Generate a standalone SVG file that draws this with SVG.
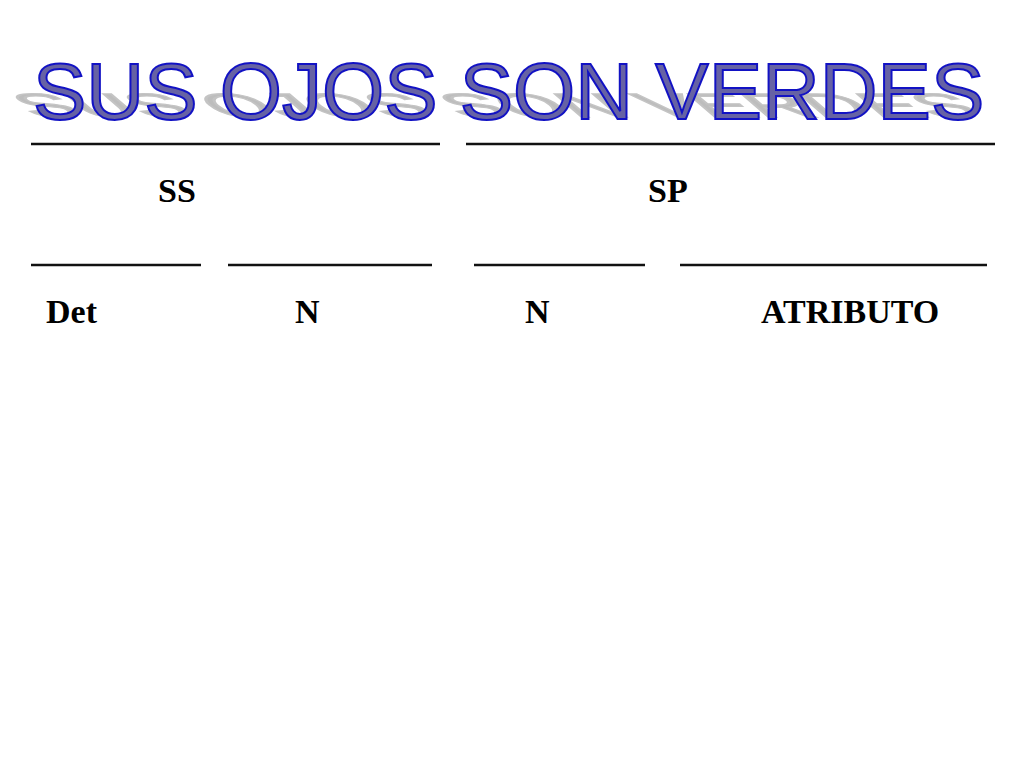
<svg xmlns="http://www.w3.org/2000/svg" width="1024" height="768" viewBox="0 0 1024 768">
<defs>
<style>
.title{font-family:"Liberation Sans",Arial,sans-serif;font-size:80px}
.main{fill:#6662a4;stroke:#1212c4;stroke-width:2px}
.shadow{fill:#bdbdbd;stroke:#c4c4c4;stroke-width:3px}
.lbl{font-family:"Liberation Serif","Times New Roman",serif;font-weight:bold;font-size:34px;fill:#000}
.blank{stroke:#111;stroke-width:2.5}
</style>
</defs>
<rect width="1024" height="768" fill="#fff"/>
<g id="title">
<text class="title shadow" x="33" y="0" transform="matrix(1,0,0.49,0.42,0,117)">SUS OJOS SON VERDES</text>
<text class="title main" x="33" y="119">SUS OJOS SON VERDES</text>
</g>
<g id="connectors">
<line class="blank" x1="31" y1="144" x2="440" y2="144"/>
<line class="blank" x1="466" y1="144" x2="995" y2="144"/>
<line class="blank" x1="31" y1="265" x2="201" y2="265"/>
<line class="blank" x1="228" y1="265" x2="432" y2="265"/>
<line class="blank" x1="474" y1="265" x2="645" y2="265"/>
<line class="blank" x1="680" y1="265" x2="987" y2="265"/>
</g>
<g id="ss"><text class="lbl" x="158" y="202">SS</text></g>
<g id="sp"><text class="lbl" x="648" y="202">SP</text></g>
<g id="det"><text class="lbl" x="46" y="323">Det</text></g>
<g id="n1"><text class="lbl" x="295" y="323">N</text></g>
<g id="n2"><text class="lbl" x="525" y="323">N</text></g>
<g id="atributo"><text class="lbl" x="761" y="323">ATRIBUTO</text></g>
</svg>
